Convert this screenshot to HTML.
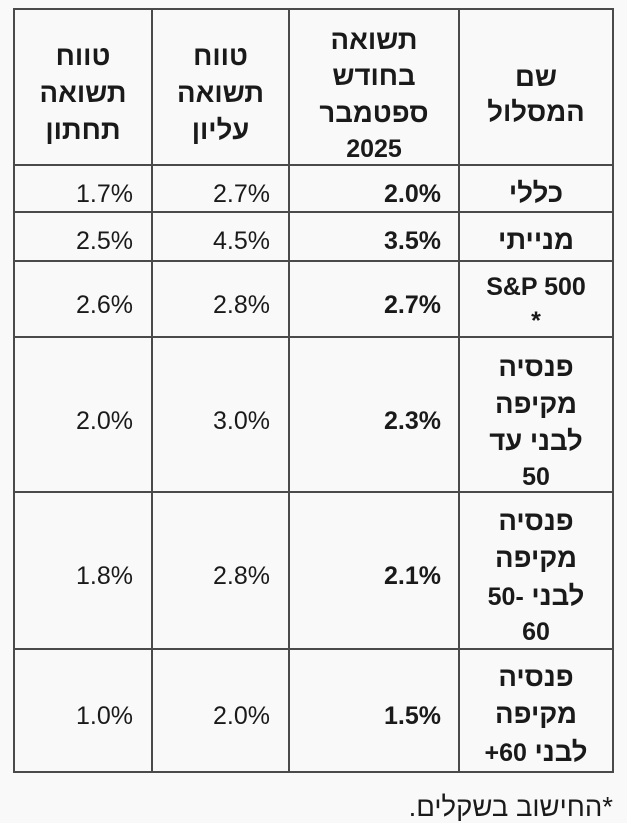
<!DOCTYPE html>
<html lang="he">
<head>
<meta charset="utf-8">
<style>
  html, body { margin:0; padding:0; }
  body {
    width:627px; height:823px; overflow:hidden; position:relative;
    background:#f9f9f9; color:#1a1a1a;
    font-family:"Liberation Sans","DejaVu Sans",sans-serif; font-size:25px;
  }
  .v { position:absolute; width:2px; background:#4a4a4a; top:8px; height:765px; }
  .h { position:absolute; height:2px; background:#4a4a4a; left:13px; width:601px; }
  .t { position:absolute; height:30px; line-height:30px; white-space:nowrap; }
  .he { font-size:27.5px; }
  .d { font-size:25px; }
  .c4 { left:14px; width:119px; text-align:right; direction:ltr; }
  .c3 { left:152px; width:118px; text-align:right; direction:ltr; }
  .c2 { left:289px; width:152px; text-align:right; direction:ltr; font-weight:bold; }
  .hc4 { left:14px; width:138px; text-align:center; direction:rtl; font-weight:bold; }
  .hc3 { left:152px; width:137px; text-align:center; direction:rtl; font-weight:bold; }
  .hc2 { left:289px; width:170px; text-align:center; direction:rtl; font-weight:bold; }
  .n { left:459px; width:154px; text-align:center; direction:rtl; font-weight:bold; }
</style>
</head>
<body>
<!-- grid -->
<div class="v" style="left:13px"></div>
<div class="v" style="left:151px"></div>
<div class="v" style="left:288px"></div>
<div class="v" style="left:458px"></div>
<div class="v" style="left:612px"></div>

<div class="h" style="top:8px"></div>
<div class="h" style="top:164px"></div>
<div class="h" style="top:211px"></div>
<div class="h" style="top:260px"></div>
<div class="h" style="top:336px"></div>
<div class="h" style="top:491px"></div>
<div class="h" style="top:648px"></div>
<div class="h" style="top:771px"></div>

<!-- header -->
<div class="t hc4 he" style="top:41px">טווח</div>
<div class="t hc4 he" style="top:78px">תשואה</div>
<div class="t hc4 he" style="top:115px">תחתון</div>

<div class="t hc3 he" style="top:41px">טווח</div>
<div class="t hc3 he" style="top:78px">תשואה</div>
<div class="t hc3 he" style="top:115px">עליון</div>

<div class="t hc2 he" style="top:25px">תשואה</div>
<div class="t hc2 he" style="top:61px">בחודש</div>
<div class="t hc2 he" style="top:98px">ספטמבר</div>
<div class="t hc2" style="top:134px">2025</div>

<div class="t n he" style="top:62px">שם</div>
<div class="t n he" style="top:97px">המסלול</div>

<!-- row 1 -->
<div class="t c4" style="top:179px">1.7%</div>
<div class="t c3" style="top:179px">2.7%</div>
<div class="t c2" style="top:179px">2.0%</div>
<div class="t n he" style="top:178px">כללי</div>

<!-- row 2 -->
<div class="t c4" style="top:226px">2.5%</div>
<div class="t c3" style="top:226px">4.5%</div>
<div class="t c2" style="top:226px">3.5%</div>
<div class="t n he" style="top:225px">מנייתי</div>

<!-- row 3 -->
<div class="t c4" style="top:290px">2.6%</div>
<div class="t c3" style="top:290px">2.8%</div>
<div class="t c2" style="top:290px">2.7%</div>
<div class="t n" style="top:272px;direction:ltr">S&amp;P 500</div>
<div class="t n" style="top:306px">*</div>

<!-- row 4 -->
<div class="t c4" style="top:406px">2.0%</div>
<div class="t c3" style="top:406px">3.0%</div>
<div class="t c2" style="top:406px">2.3%</div>
<div class="t n he" style="top:352px">פנסיה</div>
<div class="t n he" style="top:389px">מקיפה</div>
<div class="t n he" style="top:426px">לבני עד</div>
<div class="t n" style="top:462px">50</div>

<!-- row 5 -->
<div class="t c4" style="top:561px">1.8%</div>
<div class="t c3" style="top:561px">2.8%</div>
<div class="t c2" style="top:561px">2.1%</div>
<div class="t n he" style="top:506px">פנסיה</div>
<div class="t n he" style="top:543px">מקיפה</div>
<div class="t n he" style="top:581px">לבני <span class="d">-50</span></div>
<div class="t n" style="top:617px">60</div>

<!-- row 6 -->
<div class="t c4" style="top:701px">1.0%</div>
<div class="t c3" style="top:701px">2.0%</div>
<div class="t c2" style="top:701px">1.5%</div>
<div class="t n he" style="top:662px">פנסיה</div>
<div class="t n he" style="top:699px">מקיפה</div>
<div class="t n he" style="top:737px">לבני <span class="d">60+</span></div>

<!-- footnote -->
<div class="t he" style="top:792px;right:14px;direction:rtl;text-align:right">*החישוב בשקלים.</div>
</body>
</html>
